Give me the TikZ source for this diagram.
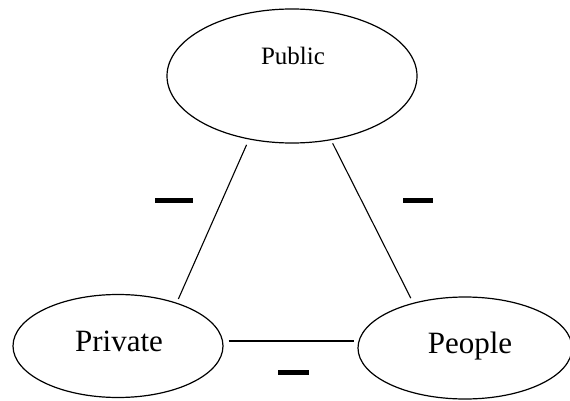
\documentclass[tikz,border=0pt]{standalone}
\usepackage{fontspec}
\setmainfont{Liberation Serif}
\usetikzlibrary{shapes.geometric}
\begin{document}
\begin{tikzpicture}[x=1pt,y=1pt,
  oval/.style={ellipse,draw,line width=1.2pt,inner sep=0pt},
  conn/.style={line width=1.1pt},
  minusbar/.style={rectangle,fill=black,inner sep=0pt,minimum height=5pt}]
\useasboundingbox (0,0) rectangle (570,400);
\node[oval,minimum width=250pt,minimum height=134pt] (pub) at (292,324) {};
\node[oval,minimum width=210pt,minimum height=103pt] (priv) at (118,54) {};
\node[oval,minimum width=214pt,minimum height=102pt] (peo) at (465,52) {};
\node[anchor=base,font=\fontsize{25}{30}\selectfont,inner sep=0pt] (pubt) at (293,335) {Public};
\node[anchor=base,font=\fontsize{31}{36}\selectfont,inner sep=0pt] (privt) at (119,49) {Private};
\node[anchor=base,font=\fontsize{31}{36}\selectfont,inner sep=0pt] (peot) at (470,47) {People};
\draw[conn] ([shift={(-4,-5)}]pub.237) -- ([shift={(4,3)}]priv.38);
\draw[conn] ([shift={(2,-3)}]pub.301) -- ([shift={(-5,4)}]peo.137);
\draw[conn] ([shift={(5,5)}]priv.east) -- ([shift={(-3,7)}]peo.west);
\node[minusbar,minimum width=38pt] (m1) at (174,200) {};
\node[minusbar,minimum width=30pt] (m2) at (418,200) {};
\node[minusbar,minimum width=31pt] (m3) at (293.5,28) {};
\end{tikzpicture}
\end{document}
